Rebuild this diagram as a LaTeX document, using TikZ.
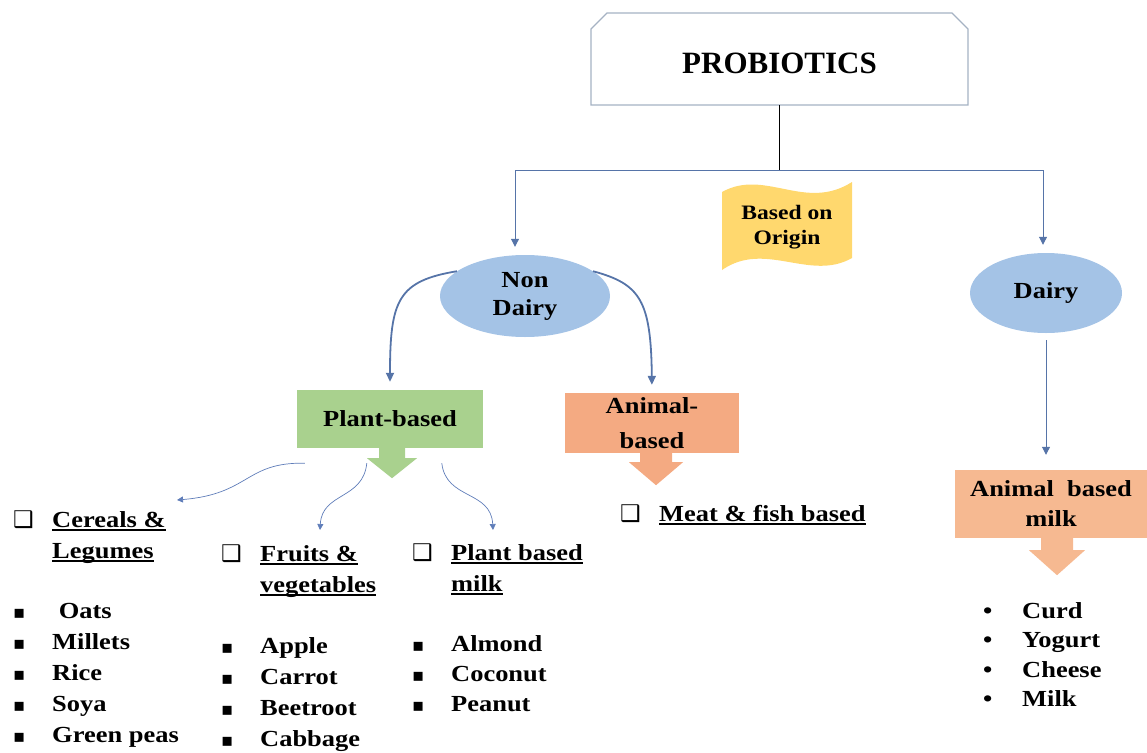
\documentclass[tikz,border=0pt]{standalone}
\usepackage{fontspec}
\setmainfont{Liberation Serif}[FakeStretch=1.15]
\newfontfamily\titlefont{Liberation Serif}
\newfontfamily\symfont{DejaVu Sans}
\usetikzlibrary{shapes.geometric,arrows.meta}

\definecolor{linkblue}{RGB}{86,116,168}
\definecolor{twigblue}{RGB}{95,125,185}
\definecolor{framegray}{RGB}{165,178,195}
\definecolor{bubblefill}{RGB}{164,195,230}
\definecolor{plantgreen}{RGB}{169,209,142}
\definecolor{animalpink}{RGB}{244,170,130}
\definecolor{milkorange}{RGB}{246,185,145}
\definecolor{originyellow}{RGB}{255,216,110}

\newcommand\uln[1]{\setbox0\hbox{#1}\rlap{\rule[-3.5pt]{\wd0}{1.5pt}}\box0}
\newcommand\boxhead[1]{\makebox[39pt][l]{\symfont ❑}\uln{#1}}
\newcommand\sqitem[1]{\makebox[39pt][l]{\symfont\fontsize{18}{18}\selectfont ▪}#1}
\newcommand\dotitem[1]{\makebox[39pt][l]{•}#1}

\begin{document}
\begin{tikzpicture}[x=1pt, y=-1pt,
    every node/.style={font=\fontsize{23}{31}\selectfont\bfseries},
    link/.style={draw=linkblue, line width=1pt},
    headed/.style={-{Triangle[length=8pt,width=8pt]}},
    curvelink/.style={draw=linkblue, line width=1.8pt, -{Triangle[length=9pt,width=8pt]}},
    twig/.style={draw=twigblue, line width=.7pt, -{Triangle[length=6pt,width=6pt]}},
    bubble/.style={ellipse, fill=bubblefill, align=center, inner sep=0pt, font=\fontsize{23}{28}\selectfont\bfseries},
    catbox/.style={rectangle, align=center, inner sep=0pt},
    list/.style={anchor=base west, align=left, inner sep=0pt}]
    \useasboundingbox (0,0) rectangle (1147,752);

    % title
    \draw[framegray, line width=1.2pt] (591,105) -- (591,29) -- (607,13) -- (952,13) -- (968,29) -- (968,105) -- cycle;
    \node[font=\titlefont\fontsize{31}{31}\selectfont\bfseries, minimum width=377pt, minimum height=84pt] (probio) at (779.5,63) {PROBIOTICS};

    \coordinate (split) at (779.5,170);
    \coordinate (lt) at (515,170);
    \coordinate (rt) at (1043,170);

    % origin banner
    \fill[originyellow] (722,192) .. controls (765,168) and (805,212) .. (852,182) -- (852,258) .. controls (810,282) and (765,240) .. (722,270) -- cycle;
    \node[align=center, inner sep=0pt, font=\fontsize{20.5}{25}\selectfont\bfseries] (origin) at (787,227) {Based on\\Origin};

    \node[bubble, minimum width=170pt, minimum height=82pt] (nondairy) at (525,296) {Non\\Dairy};
    \node[bubble, minimum width=152pt, minimum height=80pt] (dairy) at (1046,293) {Dairy};

    \node[catbox, fill=plantgreen, minimum width=186pt, minimum height=58pt] (plant) at (390,419) {Plant-based};
    \node[catbox, fill=animalpink, minimum width=174pt, minimum height=60pt, font=\fontsize{23}{35}\selectfont\bfseries] (animal) at (652,423) {Animal-\\based};
    \node[catbox, fill=milkorange, minimum width=192pt, minimum height=68pt, font=\fontsize{23}{30}\selectfont\bfseries] (milkbox) at (1051,504) {Animal\ \ based\\milk};

    % block arrows
    \fill[plantgreen] ([xshift=-11pt]plant.south) -- ++(0,10) -- ++(-12,0) -- ++(25,20) -- ++(25,-20) -- ++(-12,0) -- ++(0,-10) -- cycle;
    \fill[animalpink] ([xshift=-12pt]animal.south) -- ++(0,9) -- ++(-11,0) -- ++(27,23) -- ++(27,-23) -- ++(-11,0) -- ++(0,-9) -- cycle;
    \fill[milkorange] ([xshift=-10pt]milkbox.south) -- ++(0,12) -- ++(-12,0) -- ++(28,25) -- ++(28,-25) -- ++(-12,0) -- ++(0,-12) -- cycle;

    % connectors
    \draw[line width=1.2pt] (probio.south) -- (split);
    \draw[link] (lt) -- (rt);
    \draw[link, headed, shorten >=8pt] (lt) -- (lt |- nondairy.north);
    \draw[link, headed, shorten >=8pt] (rt) -- (rt |- dairy.north);
    \draw[curvelink, shorten >=8pt] (nondairy.160) .. controls (398,281) and (390,300) .. (plant.north);
    \draw[curvelink, shorten >=8pt] (nondairy.20) .. controls (640,284) and (651,300) .. (animal.north);
    \draw[link, headed, shorten <=7pt, shorten >=15pt] (dairy.south) -- (dairy.south |- milkbox.north);

    \coordinate (cerealtip) at (177,500);
    \coordinate (fruittip) at (320,530);
    \coordinate (pmilktip) at (493,530);
    \draw[twig] ([shift={(8,15)}]plant.south west) .. controls (245,462) and (250,494) .. (cerealtip);
    \draw[twig] ([shift={(70,15)}]plant.south west) .. controls (363,500) and (322,492) .. (fruittip);
    \draw[twig] ([shift={(145,15)}]plant.south west) .. controls (446,500) and (491,490) .. (pmilktip);

    % lists (base = last line)
    \node[list] (cereals) at (13,558) {\boxhead{Cereals \&}\\\hspace{39pt}\uln{Legumes}};
    \node[list] (cereallist) at (13,742) {\sqitem{\ Oats}\\\sqitem{Millets}\\\sqitem{Rice}\\\sqitem{Soya}\\\sqitem{Green peas}};
    \node[list] (fruits) at (221,592) {\boxhead{Fruits \&}\\\hspace{39pt}\uln{vegetables}};
    \node[list] (fruitlist) at (221,746) {\sqitem{Apple}\\\sqitem{Carrot}\\\sqitem{Beetroot}\\\sqitem{Cabbage}};
    \node[list] (pmilk) at (412,591) {\boxhead{Plant based}\\\hspace{39pt}\uln{milk}};
    \node[list, font=\fontsize{23}{30}\selectfont\bfseries] (pmilklist) at (412,711) {\sqitem{Almond}\\\sqitem{Coconut}\\\sqitem{Peanut}};
    \node[list] (meat) at (620,521) {\boxhead{Meat \& fish\ based}};
    \node[list, font=\fontsize{23}{29.5}\selectfont\bfseries] (dairylist) at (983,706.5) {\dotitem{Curd}\\\dotitem{Yogurt}\\\dotitem{Cheese}\\\dotitem{Milk}};
\end{tikzpicture}
\end{document}
